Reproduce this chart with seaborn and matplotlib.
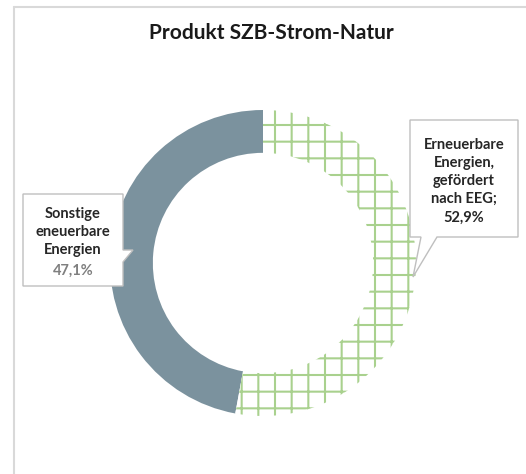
import matplotlib
matplotlib.use("Agg")
import matplotlib.pyplot as plt
import seaborn as sns
from matplotlib.patches import Polygon
from matplotlib.lines import Line2D

# ---- data ----
categories = ["Sonstige\neneuerbare\nEnergien", "Erneuerbare\nEnergien,\ngefördert\nnach EEG;"]
values = [47.1, 52.9]
pct_labels = ["47,1%", "52,9%"]
title = "Produkt SZB-Strom-Natur"

sns.set_style("white")
plt.rcParams["font.family"] = ["Lato", "DejaVu Sans"]
plt.rcParams["hatch.linewidth"] = 1.5

W, H = 526, 474
fig = plt.figure(figsize=(W / 100, H / 100), dpi=100)
fig.patch.set_facecolor("white")

def fx(x):
    return x / W

def fy(y):
    return 1 - y / H

# chart area frame (left and top edges only visible)
fig.add_artist(Line2D([fx(14), fx(14)], [fy(7), fy(480)],
                      transform=fig.transFigure, color="#d9d9d9", linewidth=1.5))
fig.add_artist(Line2D([fx(14), fx(540)], [fy(7), fy(7)],
                      transform=fig.transFigure, color="#d9d9d9", linewidth=1.5))

cx, cy, R = 263, 263, 153
ax = fig.add_axes([fx(cx - R), fy(cy + R), 2 * R / W, 2 * R / H])
gray = "#7b929e"
green = "#a9d18e"
wedges, _ = ax.pie(values, startangle=90, counterclock=True,
                   colors=[gray, "white"],
                   wedgeprops=dict(width=0.28, linewidth=0))
wedges[1].set_hatch("+")
wedges[1].set_edgecolor(green)
wedges[1].set_linewidth(0)
ax.set_xlim(-1, 1)
ax.set_ylim(-1, 1)
ax.set_aspect("equal")
ax.axis("off")

fig.text(fx(271), fy(33), title, ha="center", va="center",
         fontsize=15, fontweight="bold", color="#1a1a1a")

box_ec = "#bfbfbf"
# left callout
left_pts = [(23, 194), (123, 194), (123, 250), (133, 250), (123, 262),
            (123, 286), (23, 286)]
fig.add_artist(Polygon([(fx(x), fy(y)) for x, y in left_pts], closed=True,
                       transform=fig.transFigure, facecolor="white",
                       edgecolor=box_ec, linewidth=1.0))
fig.text(fx(73), fy(232), categories[0], ha="center", va="center",
         fontsize=10.5, fontweight="bold", color="#262626", linespacing=1.35)
fig.text(fx(73), fy(271), pct_labels[0], ha="center", va="center",
         fontsize=10.5, fontweight="bold", color="#7f7f7f")

# right callout
right_pts = [(410, 120), (518, 120), (518, 237), (437, 237), (413, 277),
             (421, 237), (410, 237)]
fig.add_artist(Polygon([(fx(x), fy(y)) for x, y in right_pts], closed=True,
                       transform=fig.transFigure, facecolor="white",
                       edgecolor=box_ec, linewidth=1.0))
fig.text(fx(464), fy(181), categories[1] + "\n" + pct_labels[1],
         ha="center", va="center", fontsize=10.5, fontweight="bold",
         color="#262626", linespacing=1.38)

fig.savefig("out.png", dpi=100)
